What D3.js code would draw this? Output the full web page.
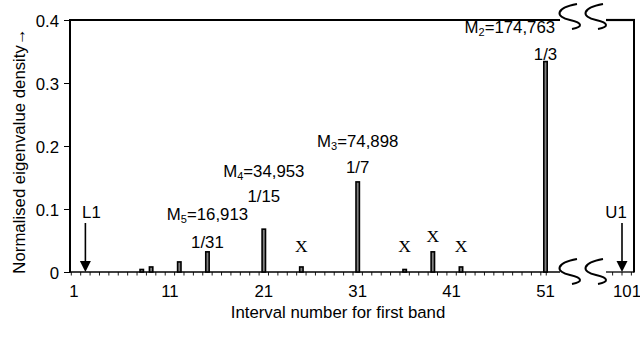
<!DOCTYPE html>
<html><head><meta charset="utf-8">
<script src="https://cdn.jsdelivr.net/npm/d3@7"></script>
<style>body{margin:0;background:#fff;} svg{display:block;} text{font-family:"Liberation Sans",Arial,Helvetica,sans-serif;fill:#000;}</style>
</head><body><svg id="c" width="640" height="337"></svg>
<script>
// ---- data ----
const intervals = [8, 9, 12, 15, 21, 25, 31, 36, 39, 42, 51];
const densities = [0.004, 0.008, 0.016, 0.032, 0.068, 0.008, 0.143, 0.004, 0.032, 0.008, 0.334];
const xTickValues = [1, 11, 21, 31, 41, 51, 101];
const yTickValues = [0, 0.1, 0.2, 0.3, 0.4];
// annotation anchors in data space [interval, density]
const labelTexts = ["M|2|=174,763", "1/3", "M|3|=74,898", "1/7", "M|4|=34,953", "1/15", "M|5|=16,913", "1/31"];
const labelX     = [47.2, 51, 31, 31, 21, 21, 15, 15];
const labelY     = [0.379, 0.3365, 0.198, 0.157, 0.151, 0.111, 0.0825, 0.038];
const xMarkX = [25, 36, 39, 42];
const xMarkY = [0.0317, 0.0317, 0.0476, 0.0317];
const boundNames = ["L1", "U1"];
const boundX = [2, 101];

// ---- layout ----
const FS = 16.8;
const svg = d3.select("#c");
const left = 70, right = 634;
const x = d3.scaleLinear().domain([1, 51, 101]).range([76, 545.5, 622]);
const y = d3.scaleLinear().domain([0, 0.4]).range([272, 20]);
const gapL = 560, gapR = 606;
const breaks = [569, 595];

// frame: left and right sides
svg.append("line").attr("x1", left).attr("x2", left).attr("y1", y(0.4)).attr("y2", y(0) + 0.5)
  .attr("stroke", "#000").attr("stroke-width", 2);
svg.append("line").attr("x1", right).attr("x2", right).attr("y1", y(0.4) - 1).attr("y2", y(0) + 0.5)
  .attr("stroke", "#000").attr("stroke-width", 2);
// top line with break
svg.append("line").attr("x1", left - 1).attr("x2", gapL).attr("y1", y(0.4)).attr("y2", y(0.4))
  .attr("stroke", "#000").attr("stroke-width", 2.2);
svg.append("line").attr("x1", gapR).attr("x2", right + 1).attr("y1", y(0.4)).attr("y2", y(0.4))
  .attr("stroke", "#000").attr("stroke-width", 2.2);
// bottom axis with break
svg.append("line").attr("x1", left).attr("x2", gapL).attr("y1", y(0)).attr("y2", y(0))
  .attr("stroke", "#000").attr("stroke-width", 1.3);
svg.append("line").attr("x1", gapR).attr("x2", right).attr("y1", y(0)).attr("y2", y(0))
  .attr("stroke", "#000").attr("stroke-width", 1.3);

// minor ticks at bin edges
const minor = d3.range(0.5, 51.6, 1).map(v => x(v)).filter(p => p >= left - 1 && p < gapL);
const step = x(2) - x(1);
[x(101) - step, x(101), x(101) + step].forEach(p => minor.push(p));
svg.append("g").selectAll("line").data(minor).join("line")
  .attr("x1", d => d).attr("x2", d => d).attr("y1", y(0)).attr("y2", y(0) + 3.5)
  .attr("stroke", "#000").attr("stroke-width", 0.9);

// x tick labels
svg.append("g").selectAll("text").data(xTickValues).join("text")
  .attr("x", d => x(d) + (d === 1 ? -2 : d === 101 ? 5 : 0)).attr("y", 297).attr("text-anchor", "middle")
  .attr("font-size", FS).text(d => d);

// y axis ticks
const yAxis = d3.axisLeft(y).tickValues(yTickValues).tickSize(6).tickPadding(5)
  .tickFormat(d => d === 0 ? "0" : d3.format(".1f")(d));
const gy = svg.append("g").attr("transform", `translate(${left},0)`).call(yAxis);
gy.select(".domain").remove();
gy.selectAll(".tick line").attr("stroke", "#000").attr("stroke-width", 1);
gy.selectAll(".tick text").attr("font-size", FS).attr("font-family", '"Liberation Sans",Arial,sans-serif').attr("fill", "#000").attr("dy", "0.36em");

// break squiggles (S-shaped)
function squiggle(cx, cy) {
  const p = d3.path();
  p.moveTo(cx + 8, cy - 12);
  p.bezierCurveTo(cx - 14, cy - 8, cx - 14, cy + 1, cx + 1, cy + 4);
  p.bezierCurveTo(cx + 14, cy + 7, cx + 14, cy + 11, cx + 3, cy + 13);
  return p.toString();
}
[y(0.4) - 4, y(0) - 1].forEach(cy => {
  breaks.forEach(bx => {
    svg.append("path").attr("d", squiggle(bx, cy)).attr("fill", "none")
      .attr("stroke", "#000").attr("stroke-width", 2);
  });
});

// bars
const bw = 3.4;
svg.append("g").selectAll("rect").data(intervals).join("rect")
  .attr("x", d => x(d) - bw / 2)
  .attr("y", (d, i) => y(densities[i]))
  .attr("width", bw)
  .attr("height", (d, i) => y(0) - y(densities[i]))
  .attr("fill", "#808080").attr("stroke", "#000").attr("stroke-width", 1.6);

// M / fraction labels
const lg = svg.append("g");
labelTexts.forEach((t, i) => {
  const parts = t.split("|");
  const tx = lg.append("text").attr("x", x(labelX[i])).attr("y", y(labelY[i]))
    .attr("text-anchor", "middle").attr("font-size", FS);
  if (parts.length === 1) { tx.text(t); }
  else {
    tx.append("tspan").text(parts[0]);
    tx.append("tspan").attr("font-size", 11).attr("dy", 3).text(parts[1]);
    tx.append("tspan").attr("dy", -3).text(parts[2]);
  }
});

// X marks
svg.append("g").selectAll("text").data(xMarkX).join("text")
  .attr("x", d => x(d)).attr("y", (d, i) => y(xMarkY[i]))
  .attr("text-anchor", "middle").attr("font-size", 17.5)
  .style("font-family", '"Liberation Serif","Times New Roman",serif').text("X");

// L1 / U1 arrows
boundX.forEach((b, i) => {
  const bx = x(b);
  svg.append("line").attr("x1", bx).attr("x2", bx).attr("y1", 223).attr("y2", y(0) - 8)
    .attr("stroke", "#000").attr("stroke-width", 1.6);
  svg.append("path").attr("d", `M${bx - 5.5},${y(0) - 11}L${bx + 5.5},${y(0) - 11}L${bx},${y(0)}Z`).attr("fill", "#000");
  svg.append("text").attr("x", bx + (i === 0 ? 6 : -6)).attr("y", 218).attr("text-anchor", "middle")
    .attr("font-size", FS).text(boundNames[i]);
});

// axis titles
svg.append("text").attr("x", 338).attr("y", 318).attr("text-anchor", "middle")
  .attr("font-size", FS).text("Interval number for first band");
svg.append("text").attr("transform", "translate(25,151) rotate(-90)").attr("text-anchor", "middle")
  .attr("font-size", FS).text("Normalised eigenvalue density\u2192");
</script></body></html>
